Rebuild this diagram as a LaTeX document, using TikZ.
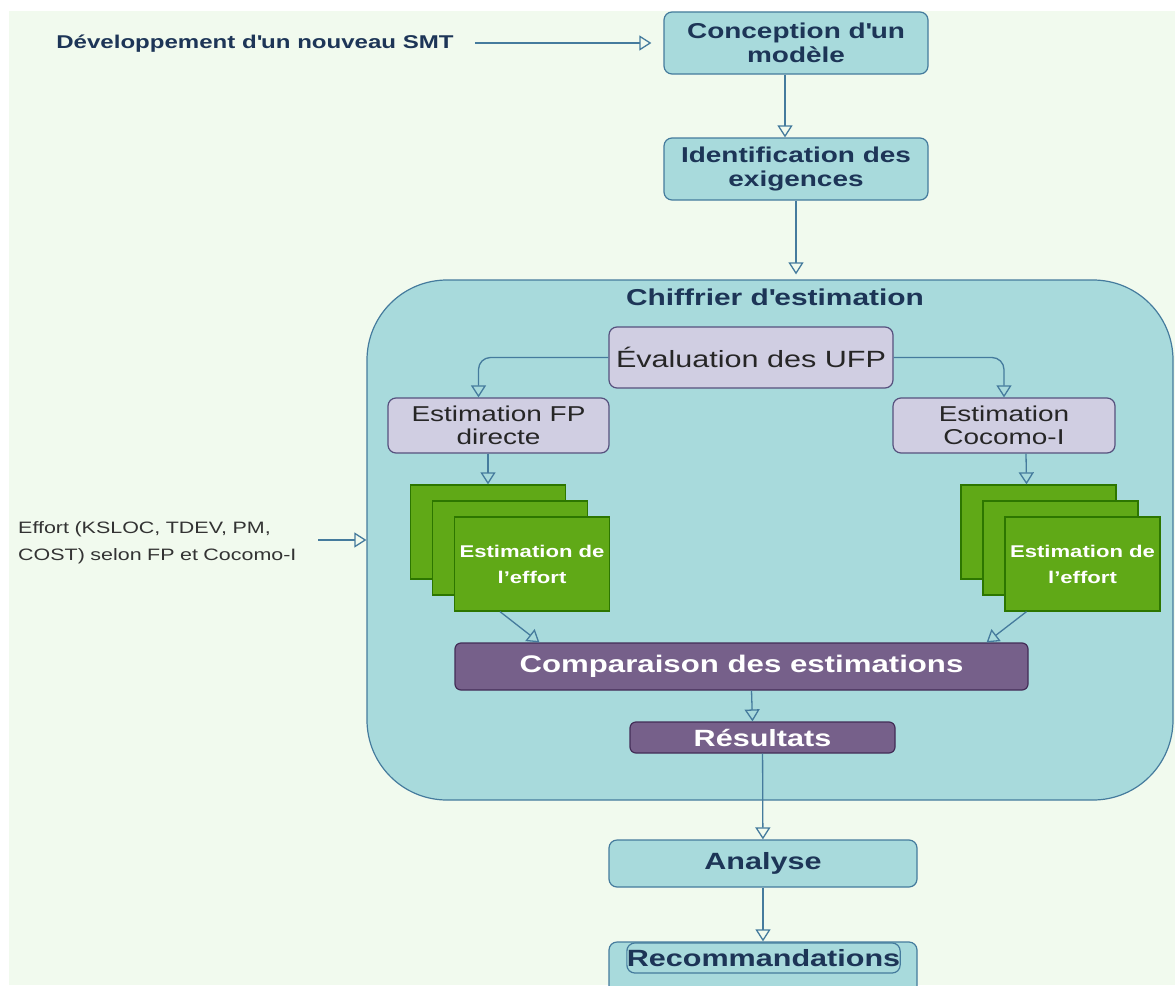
\documentclass[tikz,border=0pt]{standalone}
\usepackage{fontspec}
\setmainfont{Liberation Sans}[FakeStretch=1.3]
\usepackage{tikz}
\usetikzlibrary{arrows.meta,positioning}
\definecolor{drawiobg}{HTML}{F1FAEE}
\definecolor{drawioteal}{HTML}{A8DADC}
\definecolor{drawioblue}{HTML}{457B9D}
\definecolor{drawionavy}{HTML}{1D3557}
\definecolor{lavfill}{HTML}{D0CEE2}
\definecolor{lavdraw}{HTML}{56517E}
\definecolor{effortgreen}{HTML}{60A917}
\definecolor{effortdark}{HTML}{2D7600}
\definecolor{resultpurple}{HTML}{76608A}
\definecolor{resultdark}{HTML}{432D57}

\begin{document}
\begin{tikzpicture}[x=1pt, y=-1pt,
    stepbox/.style={rectangle, draw=drawioblue, fill=drawioteal, text=drawionavy,
                    line width=1.2pt, rounded corners=8pt, align=center, inner sep=0pt,
                    font=\bfseries\fontsize{21.5}{24}\selectfont},
    subtask/.style={rectangle, draw=lavdraw, fill=lavfill, text=black!85,
                    line width=1.2pt, rounded corners=8pt, align=center, inner sep=0pt,
                    font=\fontsize{21.5}{23}\selectfont},
    effortcard/.style={rectangle, draw=effortdark, fill=effortgreen, text=white,
                       line width=1.3pt, minimum width=155pt, minimum height=94pt,
                       align=center, inner sep=0pt,
                       font=\bfseries\fontsize{17}{26}\selectfont},
    resultbox/.style={rectangle, draw=resultdark, fill=resultpurple, text=white,
                      line width=1.2pt, rounded corners=6pt, inner sep=0pt,
                      font=\bfseries\fontsize{23.5}{25}\selectfont},
    note/.style={inner sep=0pt, align=left},
    flow/.style={-{Triangle[open, width=15pt, length=12pt]}, draw=drawioblue, line width=1.3pt}
]
    % page and background
    \clip (0,0) rectangle (1175,985);
    \fill[white] (0,0) rectangle (1175,985);
    \fill[drawiobg] (9,11) rectangle (1175,985);

    % big container
    \node[rectangle, draw=drawioblue, fill=drawioteal, line width=1.2pt, rounded corners=80pt,
          minimum width=806pt, minimum height=520pt] (chiffrier) at (770,540) {};
    \node[text=drawionavy, font=\bfseries\fontsize{23}{24}\selectfont] (chiffriertitle) at (775,297) {Chiffrier d\textquotesingle estimation};

    % top of the flow
    \node[note, text=drawionavy, inner xsep=21pt, font=\bfseries\fontsize{18.5}{21}\selectfont] (devnote) at (255,44) {Développement d\textquotesingle un nouveau SMT};
    \node[stepbox, minimum width=264pt, minimum height=62pt] (conception) at (796,43) {Conception d\textquotesingle un\\modèle};
    \node[stepbox, minimum width=264pt, minimum height=62pt] (identif) at (796,169) {Identification des\\exigences};

    % inside the container
    \node[subtask, minimum width=284pt, minimum height=61pt, font=\fontsize{23.5}{25}\selectfont] (evaluation) at (751,357.5) {Évaluation des UFP};
    \node[subtask, minimum width=221pt, minimum height=55pt] (fpdirecte) at (498.5,425.5) {Estimation FP\\directe};
    \node[subtask, minimum width=222pt, minimum height=55pt] (cocomo) at (1004,425.5) {Estimation\\Cocomo-I};

    % effort cards
    \node[effortcard] (fpstackA) at (488,532) {};
    \node[effortcard] (fpstackB) at (510,548) {};
    \node[effortcard] (fpstack) at (532,564) {Estimation de\\l’effort};
    \node[effortcard] (cocstackA) at (1038.5,532) {};
    \node[effortcard] (cocstackB) at (1060.5,548) {};
    \node[effortcard] (cocstack) at (1082.5,564) {Estimation de\\l’effort};

    % comparison and results
    \node[resultbox, minimum width=573pt, minimum height=47pt, font=\bfseries\fontsize{24}{26}\selectfont] (compare) at (741.5,666.5) {Comparaison des estimations};
    \node[resultbox, minimum width=265pt, minimum height=31pt] (results) at (762.5,737.5) {Résultats};

    % after the container
    \node[stepbox, minimum width=308pt, minimum height=47pt, font=\bfseries\fontsize{23.5}{25}\selectfont] (analyse) at (763,863.5) {Analyse};
    \node[stepbox, minimum width=308pt, minimum height=58pt] (recoframe) at (763,971) {};
    \node[stepbox, minimum width=267pt, minimum height=30pt, font=\bfseries\fontsize{23.5}{25}\selectfont] (recommandations) at (763.5,958) {Recommandations};

    % side note
    \node[note, text=black!80, text width=300pt, font=\fontsize{16.5}{27}\selectfont, anchor=west] (effortnote) at (18,543) {Effort (KSLOC, TDEV, PM,\\COST) selon FP et Cocomo-I};

    % connections
    \draw[flow, shorten >=12pt] (devnote.east |- conception.west) -- (conception.west);
    \draw[flow] ([xshift=-11pt]conception.south) -- ([xshift=-11pt]identif.north);
    \draw[flow, shorten >=5pt] (identif.south) -- (identif.south |- chiffrier.north);
    \draw[flow, rounded corners=12pt] (evaluation.west) -| ([xshift=-20pt]fpdirecte.north);
    \draw[flow, rounded corners=12pt] (evaluation.east) -| (cocomo.north);
    \draw[flow] (fpdirecte.south -| fpstackA.north) -- (fpstackA.north);
    \draw[flow] ([xshift=22pt]cocomo.south) -- ([xshift=-12pt]cocstackA.north);
    \draw[flow] ([xshift=-32pt]fpstack.south) -- ([xshift=85pt]compare.north west);
    \draw[flow] ([xshift=-56pt]cocstack.south) -- ([xshift=-42pt]compare.north east);
    \draw[flow] ([xshift=10pt]compare.south) -- ([xshift=-10pt]results.north);
    \draw[flow] (results) -- (analyse);
    \draw[flow] (analyse) -- (recoframe);
    \draw[flow] (effortnote.east |- chiffrier.west) -- (chiffrier.west);
\end{tikzpicture}
\end{document}
